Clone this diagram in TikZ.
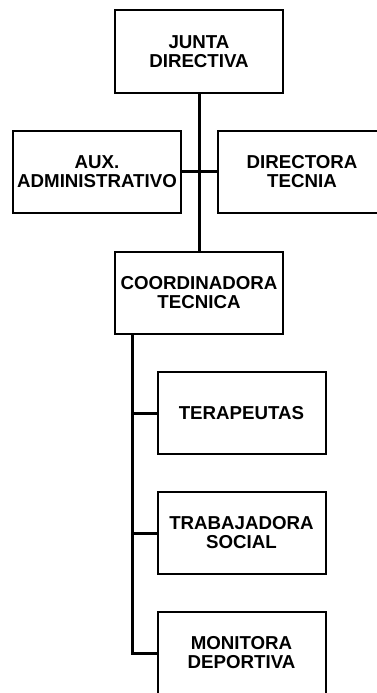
\documentclass[tikz,border=0pt]{standalone}
\usepackage{fontspec}
\setmainfont{Liberation Sans}
\usepackage{tikz}

\begin{document}
\begin{tikzpicture}[x=1pt, y=-1pt, line width=3pt,
    cargo/.style={draw, line width=2pt, minimum width=168pt, minimum height=82pt,
                  inner sep=0pt, outer sep=0pt, align=center,
                  font=\bfseries\fontsize{18.7}{19}\selectfont}]
    \useasboundingbox (0,0) rectangle (377,693);

    % draw the boxes
    \node[cargo] (junta)       at (199, 51.5)  {JUNTA\\DIRECTIVA};
    \node[cargo] (aux)         at (97, 171.5)  {AUX.\\ADMINISTRATIVO};
    \node[cargo] (directora)   at (302, 171.5) {DIRECTORA\\TECNIA};
    \node[cargo] (coord)       at (199, 293)   {COORDINADORA\\TECNICA};
    \node[cargo] (terapeutas)  at (241.5, 413) {TERAPEUTAS};
    \node[cargo] (trabajadora) at (241.5, 533) {TRABAJADORA\\SOCIAL};
    \node[cargo] (monitora)    at (241.5, 653) {MONITORA\\DEPORTIVA};

    % draw the main line
    \draw (junta.south) -- (coord.north);
    \draw (aux.east) -- (directora.west);

    % draw the side line
    \coordinate (trunk) at ([xshift=17pt]coord.south west);
    \draw (trunk) |- (monitora.west);
    \draw (trunk |- terapeutas.west) -- (terapeutas.west);
    \draw (trunk |- trabajadora.west) -- (trabajadora.west);
\end{tikzpicture}
\end{document}
